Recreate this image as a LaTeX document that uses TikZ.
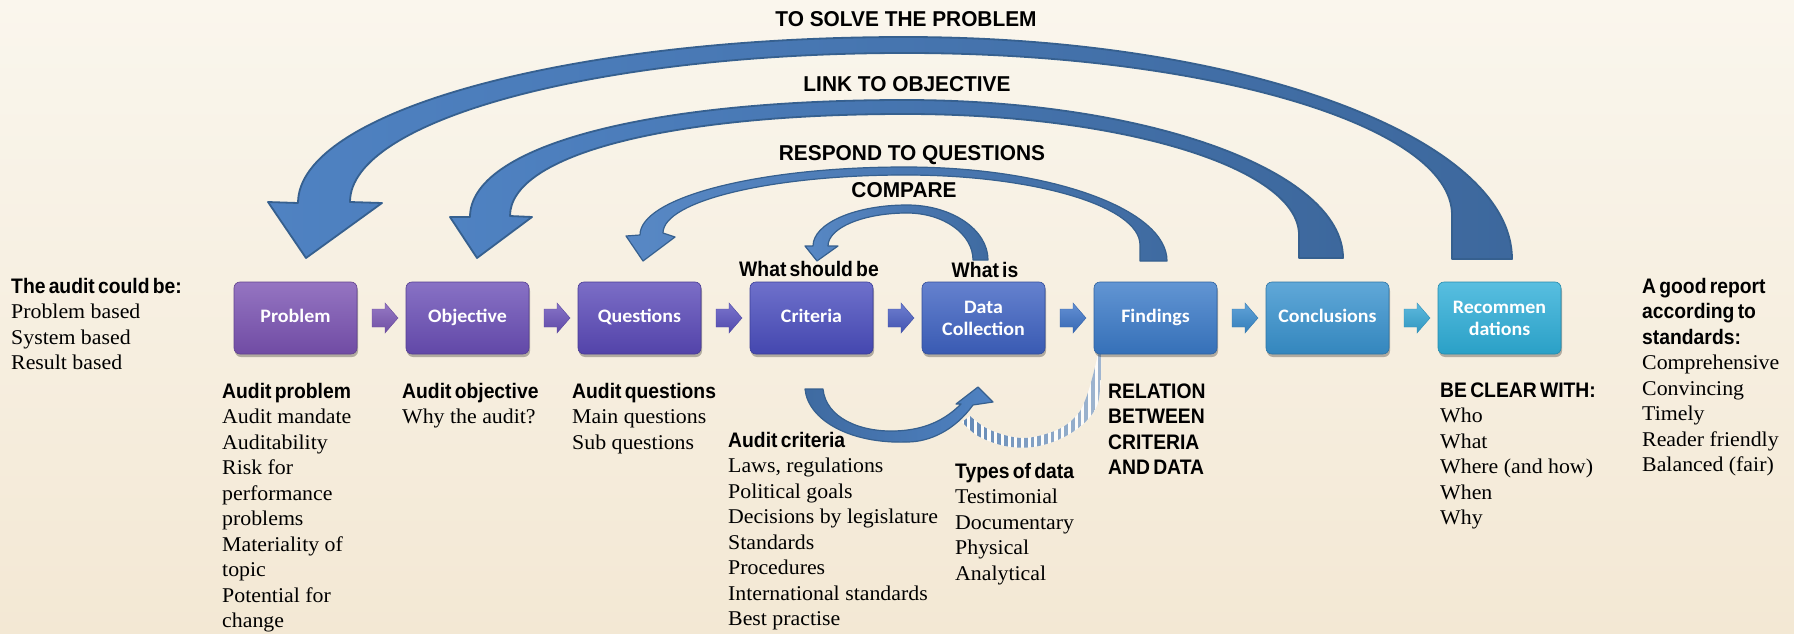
\documentclass[tikz,border=0pt]{standalone}
\usepackage{fontspec}
\setmainfont{Liberation Serif}[FakeStretch=1.04]
\newfontfamily\headfont{Liberation Sans}[FakeStretch=0.92,WordSpace=0.6]
\newfontfamily\arcfont{Liberation Sans}[FakeStretch=0.97]
\newfontfamily\stagefont{Carlito}[FakeStretch=1.05]
\usetikzlibrary{calc,shadows}

\definecolor{bgtop}{HTML}{FAF6ED}
\definecolor{bgbot}{HTML}{F3E8D4}
\definecolor{arcL}{HTML}{4F82C2}
\definecolor{arcR}{HTML}{3D689D}
\definecolor{arcEdge}{HTML}{36608F}
\definecolor{stripe}{HTML}{5A82B2}
% stage colours, purple to cyan
\definecolor{cA}{HTML}{7A52B2}
\definecolor{cB}{HTML}{6A4EB6}
\definecolor{cC}{HTML}{5A49B8}
\definecolor{cD}{HTML}{4A4DBE}
\definecolor{cE}{HTML}{3E62C2}
\definecolor{cF}{HTML}{3A7AC8}
\definecolor{cG}{HTML}{3892CE}
\definecolor{cH}{HTML}{2EAED8}
% small step arrows
\definecolor{aA}{HTML}{7C58B6}
\definecolor{aB}{HTML}{6A52BA}
\definecolor{aC}{HTML}{5A52C0}
\definecolor{aD}{HTML}{4A5EC4}
\definecolor{aE}{HTML}{3D74C8}
\definecolor{aF}{HTML}{3A8CCE}
\definecolor{aG}{HTML}{36A8D6}

\newcommand{\blockhead}{\headfont\bfseries}

\begin{document}
\begin{tikzpicture}[x=1pt,y=-1pt,
  stagebase/.style={rounded corners=6pt, minimum width=123pt, minimum height=72pt,
    inner sep=0pt, text=white, draw=#1!80!black, line width=0.6pt,
    top color=#1!80!white, bottom color=#1!92!black,
    drop shadow={shadow xshift=1pt, shadow yshift=-3pt, opacity=0.28, fill=black}},
  stage/.style={stagebase=#1, font={\stagefont\bfseries\fontsize{19}{22}\selectfont},
    text height=13pt, text depth=4pt},
  stagetwo/.style={stagebase=#1, font={\stagefont\bfseries\fontsize{19}{22}\selectfont},
    align=center},
  bigarc/.style={draw=arcEdge, line width=1.8pt, line join=round,
    left color=arcL, right color=arcR},
  smallarc/.style={draw=arcEdge, line width=1.2pt, line join=round,
    left color=arcL!95!white, right color=arcR!90!arcL},
  arclabel/.style={anchor=base, inner sep=0pt,
    font={\arcfont\bfseries\fontsize{21.5}{24}\selectfont}},
  textblock/.style={anchor=base west, inner sep=0pt,
    font={\fontsize{21}{25.5}\selectfont}},
  sidelabel/.style={anchor=base, inner sep=0pt,
    font={\headfont\bfseries\fontsize{21}{25.5}\selectfont}}
]
\useasboundingbox (0,0) rectangle (1794,634);
\fill[top color=bgtop, bottom color=bgbot] (0,0) rectangle (1794,634);

% ---- feedback arcs over the process chain ----
\path[bigarc] (1512,259) .. controls (1512,136.4) and (1240.2,37) .. (905,37)
  .. controls (569.8,37) and (298,111.3) .. (298,203)
  -- (268,202) -- (306,258) -- (382,203) -- (350,202)
  .. controls (350,119.7) and (598.5,53) .. (905,53)
  .. controls (1207.1,53) and (1452,125.5) .. (1452,215)
  -- (1452,259) -- cycle;

\path[bigarc] (1343,258) .. controls (1343,170.7) and (1146.9,100) .. (905,100)
  .. controls (644,100) and (470,147) .. (470,217)
  -- (450,217) -- (477,258) -- (532,217) -- (510,216)
  .. controls (510,155) and (668,114) .. (905,114)
  .. controls (1122.6,114) and (1299,168.2) .. (1299,235)
  -- (1299,258) -- cycle;

\path[smallarc] (1167,261) .. controls (1167,209.1) and (1049.7,167) .. (905,167)
  .. controls (758.6,167) and (640,197.4) .. (640,235)
  -- (626,236) -- (643,261) -- (675,237) -- (663,233)
  .. controls (663,201) and (771.3,175) .. (905,175)
  .. controls (1034.8,175) and (1140,206.3) .. (1140,245)
  -- (1140,261) -- cycle;

\path[smallarc] (988,260) .. controls (988,229.6) and (951.7,205) .. (907,205)
  .. controls (855.1,205) and (813,223.4) .. (813,246)
  -- (805,246) -- (817,261) -- (838,246) -- (828,246)
  .. controls (828,227.8) and (863.4,213) .. (907,213)
  .. controls (943.5,213) and (973,234) .. (973,260)
  -- cycle;

% ---- striped band from the data back to the findings ----
\begin{scope}
  \clip plot[smooth,tension=0.6] coordinates {(962,422) (978,436) (1005,446) (1033,447)
      (1060,439) (1082,425) (1096,408) (1100,390) (1101,370) (1101,354)}
    -- plot[smooth,tension=0.6] coordinates {(1098,354) (1093,375) (1086,398)
      (1077,415) (1057,430) (1023,438) (990,430) (970,416)} -- cycle;
  \fill[white,opacity=0.85] (950,345) rectangle (1110,455);
  \foreach \xx in {957,963.7,...,1106} {
    \pgfmathsetmacro\op{0.95-0.4*(\xx-957)/150}
    \fill[stripe,opacity=\op] (\xx,345) rectangle ++(3.6,110);
  }
\end{scope}

% ---- lower arrow from criteria to data ----
\path[smallarc, left color=arcR!90!arcL, right color=arcL]
  (805,389) -- (823,389) .. controls (826,418) and (860,432) .. (895,431)
  .. controls (925,430) and (945,420) .. (961,404)
  -- (956,404) -- (978,387) -- (993,402) -- (973,405)
  .. controls (955,430) and (930,442) .. (907,442)
  .. controls (850,444) and (808,420) .. (805,389) -- cycle;

% ---- process stages ----
\node[stage=cA] (prob) at (295.5,318) {Problem};
\node[stage=cB] (obj) at (467.5,318) {Objective};
\node[stage=cC] (ques) at (639.5,318) {Questions};
\node[stage=cD] (crit) at (811.5,318) {Criteria};
\node[stagetwo=cE] (data) at (983.5,318) {Data\\Collection};
\node[stage=cF] (find) at (1155.5,318) {Findings};
\node[stage=cG] (concl) at (1327.5,318) {Conclusions};
\node[stagetwo=cH] (recom) at (1499.5,318) {Recommen\\dations};

% ---- step arrows between stages ----
\foreach \a/\b/\c in {prob/obj/aA, obj/ques/aB, ques/crit/aC, crit/data/aD,
                      data/find/aE, find/concl/aF, concl/recom/aG} {
  \path[top color=\c!80!white, bottom color=\c!90!black, draw=\c!85!black, line width=0.4pt]
    ($(\a.east)!0.5!(\b.west)+(-9.5,-9)$) -- ++(13,0) -- ++(0,-6) -- ++(13,15)
    -- ++(-13,15) -- ++(0,-6) -- ++(-13,0) -- cycle;
}

% ---- arc labels ----
\node[arclabel] (solve) at (906,27) {TO SOLVE THE PROBLEM};
\node[arclabel] (link) at (907,92) {LINK TO OBJECTIVE};
\node[arclabel] (respond) at (912,160) {RESPOND TO QUESTIONS};
\node[arclabel] (compare) at (904,197) {COMPARE};
\node[sidelabel] (shouldbe) at (809,276) {What should be};
\node[sidelabel] (whatis) at (985,277) {What is};

% ---- text blocks ----
\node[textblock] (kinds) at (11,293) {\begin{tabular}[t]{@{}l@{}}
  \blockhead The audit could be:\\ Problem based\\ System based\\ Result based\end{tabular}};

\node[textblock] (probtext) at (222,398) {\begin{tabular}[t]{@{}l@{}}
  \blockhead Audit problem\\ Audit mandate\\ Auditability\\ Risk for\\ performance\\
  problems\\ Materiality of\\ topic\\ Potential for\\ change\end{tabular}};

\node[textblock] (objtext) at (402,398) {\begin{tabular}[t]{@{}l@{}}
  \blockhead Audit objective\\ Why the audit?\end{tabular}};

\node[textblock] (questext) at (572,398) {\begin{tabular}[t]{@{}l@{}}
  \blockhead Audit questions\\ Main questions\\ Sub questions\end{tabular}};

\node[textblock] (crittext) at (728,447) {\begin{tabular}[t]{@{}l@{}}
  \blockhead Audit criteria\\ Laws, regulations\\ Political goals\\
  Decisions by legislature\\ Standards\\ Procedures\\ International standards\\
  Best practise\end{tabular}};

\node[textblock] (datatext) at (955,478) {\begin{tabular}[t]{@{}l@{}}
  \blockhead Types of data\\ Testimonial\\ Documentary\\ Physical\\ Analytical\end{tabular}};

\node[textblock] (relation) at (1108,398) {\begin{tabular}[t]{@{}l@{}}
  \blockhead RELATION\\ \blockhead BETWEEN\\ \blockhead CRITERIA\\ \blockhead AND DATA\end{tabular}};

\node[textblock] (clear) at (1440,397) {\begin{tabular}[t]{@{}l@{}}
  \blockhead BE CLEAR WITH:\\ Who\\ What\\ Where (and how)\\ When\\ Why\end{tabular}};

\node[textblock] (report) at (1642,293) {\begin{tabular}[t]{@{}l@{}}
  \blockhead A good report\\ \blockhead according to\\ \blockhead standards:\\
  Comprehensive\\ Convincing\\ Timely\\ Reader friendly\\ Balanced (fair)\end{tabular}};
\end{tikzpicture}
\end{document}
